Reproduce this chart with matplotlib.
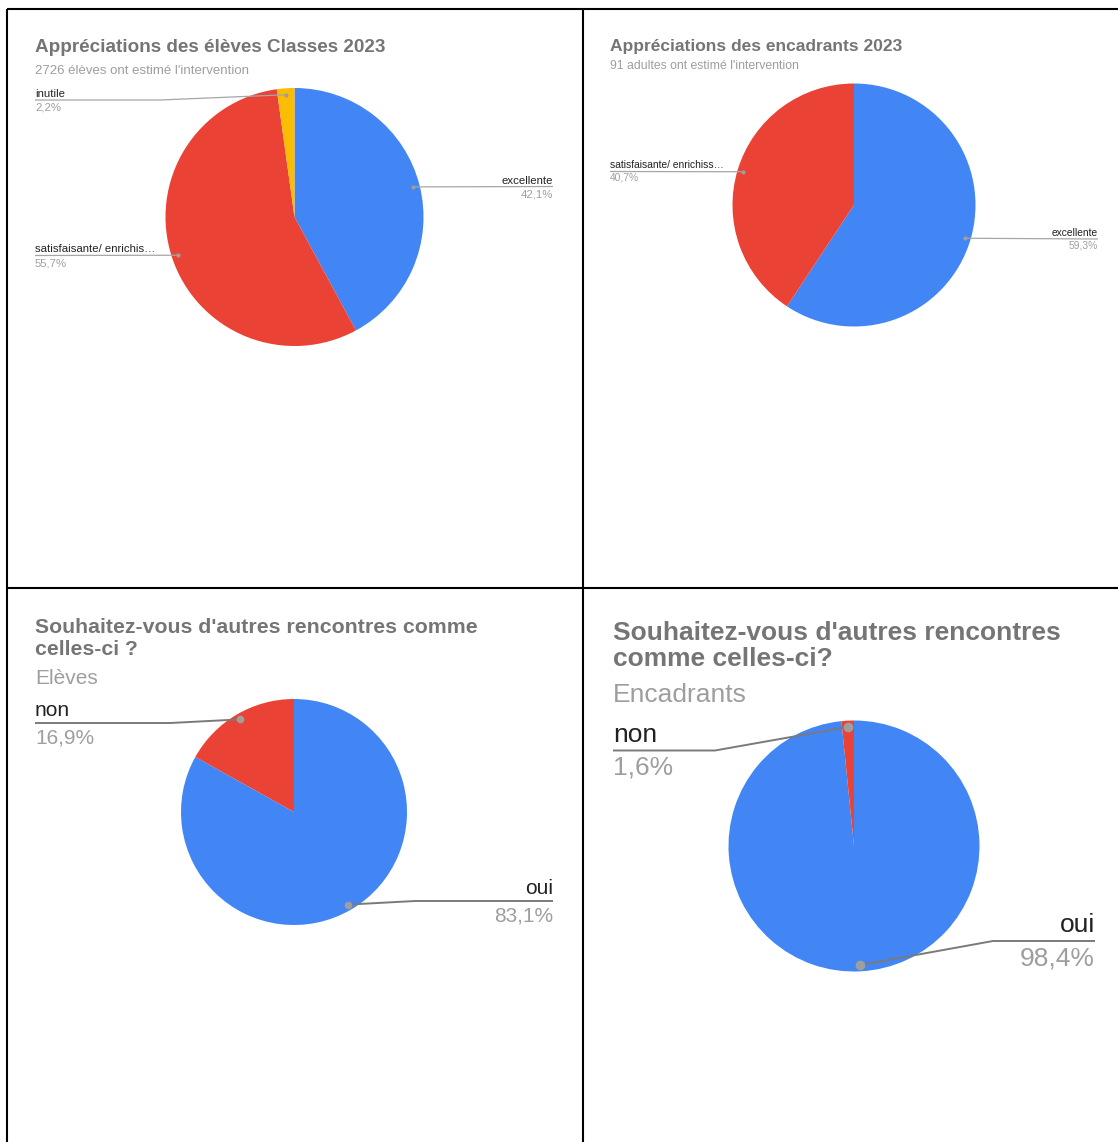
import numpy as np
import matplotlib.pyplot as plt

plt.rcParams['font.family'] = ['Liberation Sans', 'DejaVu Sans']

W, H = 1118, 1142

# data
titles = [
    "Appréciations des élèves Classes 2023",
    "Appréciations des encadrants 2023",
    "Souhaitez-vous d'autres rencontres comme\ncelles-ci ?",
    "Souhaitez-vous d'autres rencontres\ncomme celles-ci?",
]
subtitles = [
    "2726 élèves ont estimé l'intervention",
    "91 adultes ont estimé l'intervention",
    "Elèves",
    "Encadrants",
]
eleves_labels = ["excellente", "satisfaisante/ enrichis…", "inutile"]
eleves_values = [42.1, 55.7, 2.2]
encadrants_labels = ["excellente", "satisfaisante/ enrichiss…"]
encadrants_values = [59.3, 40.7]
autres_eleves_labels = ["oui", "non"]
autres_eleves_values = [83.1, 16.9]
autres_encadrants_labels = ["oui", "non"]
autres_encadrants_values = [98.4, 1.6]

BLUE, RED, YELLOW = "#4285F4", "#EA4335", "#FBBC04"
TITLE_C, SUB_C, LABEL_C = "#757575", "#9e9e9e", "#222222"


def Y(py):
    return H - py


# layout for each panel (pixels)
panels = [
    dict(labels=eleves_labels, values=eleves_values, colors=[BLUE, RED, YELLOW],
         center=(294.5, 217), r=129, tx=35, title_y=[52], sub_y=74,
         title_fs=13.6, sub_fs=9.5, lab_fs=8.2, a=3, b=11,
         line_c="#a6a6a6", line_w=0.9, dot_ms=3,
         leaders=[("right", 553, 186.5, None), ("left", 35, 255.5, None), ("left", 35, 100, 160)]),
    dict(labels=encadrants_labels, values=encadrants_values, colors=[BLUE, RED],
         center=(854, 205), r=121.5, tx=610, title_y=[51], sub_y=69,
         title_fs=12.5, sub_fs=8.8, lab_fs=7.4, a=3.5, b=9.5,
         line_c="#a6a6a6", line_w=0.9, dot_ms=3,
         leaders=[("right", 1098, 239, None), ("left", 610, 171.5, None)]),
    dict(labels=autres_eleves_labels, values=autres_eleves_values, colors=[BLUE, RED],
         center=(294, 812), r=113, tx=35, title_y=[633, 655], sub_y=684,
         title_fs=15.3, sub_fs=15, lab_fs=15, a=6.5, b=20.5,
         line_c="#7a7a7a", line_w=1.4, dot_ms=5.5,
         leaders=[("right", 553, 901, 415), ("left", 35, 723, 170)]),
    dict(labels=autres_encadrants_labels, values=autres_encadrants_values, colors=[BLUE, RED],
         center=(854, 846), r=125.5, tx=613, title_y=[640, 666], sub_y=702,
         title_fs=19, sub_fs=19, lab_fs=19, a=9, b=24.5,
         line_c="#7a7a7a", line_w=1.4, dot_ms=7,
         leaders=[("right", 1095, 941, 993), ("left", 613, 750.5, 715)]),
]

fig = plt.figure(figsize=(W / 100, H / 100), dpi=100)
ax = fig.add_axes([0, 0, 1, 1])

for p, title, sub in zip(panels, titles, subtitles):
    cx, cy = p["center"]
    wedges, _ = ax.pie(p["values"], colors=p["colors"], startangle=90, counterclock=False,
                       center=(cx, Y(cy)), radius=p["r"], wedgeprops=dict(linewidth=0))

    for line, yb in zip(title.split("\n"), p["title_y"]):
        ax.text(p["tx"], Y(yb), line, fontsize=p["title_fs"], fontweight="bold",
                color=TITLE_C, ha="left", va="baseline")
    ax.text(p["tx"], Y(p["sub_y"]), sub, fontsize=p["sub_fs"], color=SUB_C,
            ha="left", va="baseline")

    for w, lab, val, (side, x0, ly, elbow) in zip(wedges, p["labels"], p["values"], p["leaders"]):
        mid = np.deg2rad((w.theta1 + w.theta2) / 2)
        dx = cx + 0.95 * p["r"] * np.cos(mid)
        dy = Y(cy) + 0.95 * p["r"] * np.sin(mid)
        xs = [x0] + ([elbow] if elbow is not None else []) + [dx]
        ys = [Y(ly)] + ([Y(ly)] if elbow is not None else []) + [dy]
        ax.plot(xs, ys, color=p["line_c"], lw=p["line_w"], solid_capstyle="butt")
        ax.plot(dx, dy, "o", color="#9e9e9e", ms=p["dot_ms"], mew=0)
        ax.text(x0, Y(ly) + p["a"], lab, fontsize=p["lab_fs"], color=LABEL_C,
                ha=side, va="baseline")
        pct = f"{val:.1f}%".replace(".", ",")
        ax.text(x0, Y(ly) - p["b"], pct, fontsize=p["lab_fs"], color=SUB_C,
                ha=side, va="baseline")

# panel borders
for xs, ys in [([7, W], [9, 9]), ([7, 7], [9, H]), ([582.5, 582.5], [9, H]), ([7, W], [587.5, 587.5])]:
    ax.plot(xs, [Y(v) for v in ys], color="black", lw=1.5, solid_capstyle="butt", clip_on=False)

ax.set_xlim(0, W)
ax.set_ylim(0, H)
ax.axis("off")

fig.savefig("out.png", dpi=100, facecolor="white")
